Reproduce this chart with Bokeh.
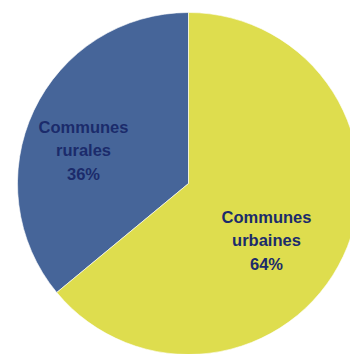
import numpy as np
from bokeh.plotting import figure
from bokeh.models import Range1d, ColumnDataSource
from bokeh.core.properties import value
from bokeh.embed import file_html
from bokeh.resources import INLINE

# Data
categories = ["Communes\nrurales", "Communes\nurbaines"]
shares = [36, 64]
colors = ["#466599", "#DEDD4E"]

W, H = 350, 354
cx, cy, R = 188, H - 183, 171

vals = np.array(shares, dtype=float)
fr = vals / vals.sum()
start = np.pi / 2 + 2 * np.pi * np.concatenate([[0], np.cumsum(fr)[:-1]])
end = np.pi / 2 + 2 * np.pi * np.cumsum(fr)

src = ColumnDataSource(dict(start=start, end=end, color=colors))

p = figure(width=W, height=H, output_backend="svg", toolbar_location=None,
           x_range=Range1d(0, W), y_range=Range1d(0, H), min_border=0)
p.axis.visible = False
p.grid.visible = False
p.outline_line_color = None
p.background_fill_color = "white"
p.border_fill_color = "white"

p.wedge(x=cx, y=cy, radius=R, start_angle="start", end_angle="end",
        fill_color="color", line_color="white", line_width=0.6, source=src)

# label placement (pixel offsets from centre)
lab_dx = [-105, 78]
lab_dy = [33, -57]
texts = [f"{c}\n{v}%" for c, v in zip(categories, shares)]
lsrc = ColumnDataSource(dict(x=[cx + d for d in lab_dx], y=[cy + d for d in lab_dy], t=texts))
p.text(x="x", y="y", text="t", source=lsrc, text_align="center", text_baseline="middle",
       text_font=value("Liberation Sans"), text_font_style="bold", text_font_size="16.5px",
       text_color="#1B2B6B", text_line_height=1.33)

open("out.html", "w").write(file_html(p, INLINE))
